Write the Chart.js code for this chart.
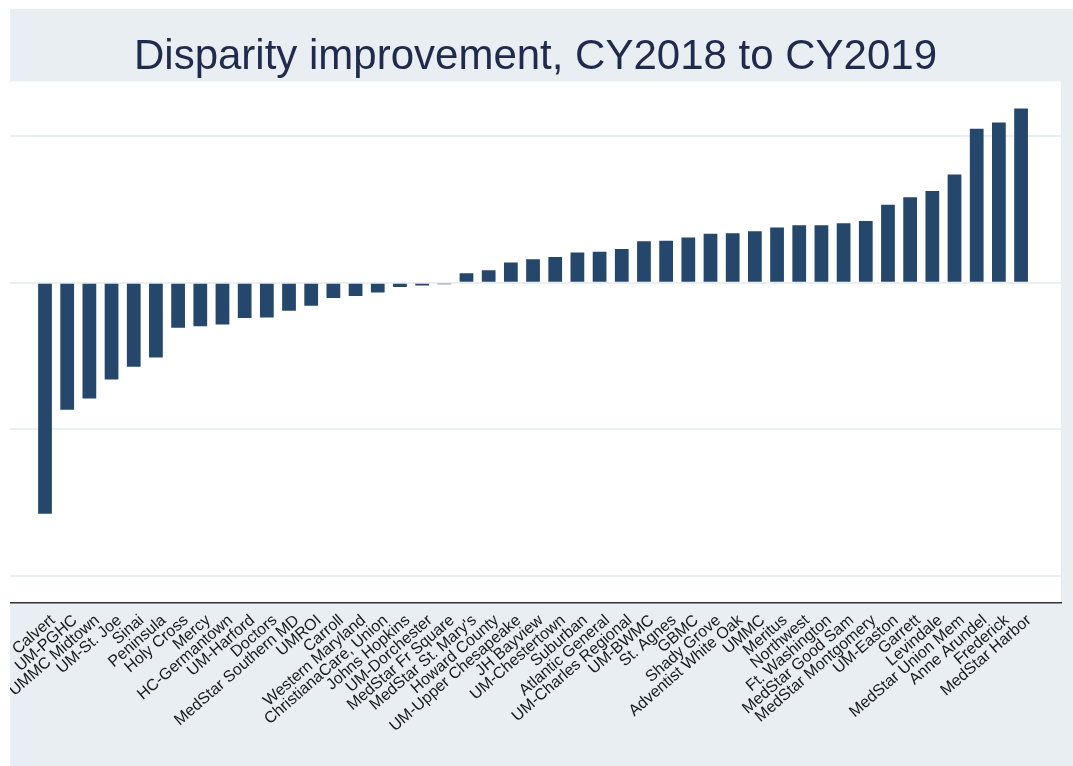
<!DOCTYPE html>
<html>
<head>
<meta charset="utf-8">
<script src="https://cdn.jsdelivr.net/npm/chart.js@4"></script>
<style>
  html, body { margin: 0; padding: 0; background: #fff; }
  #wrap { position: absolute; left: 10px; top: 9px; width: 1063px; height: 757px; background: #e9eef2; }
</style>
</head>
<body>
<div id="wrap"><canvas id="chart" width="1063" height="757"></canvas></div>
<script>
const hospitals = [
  "Calvert", "UM-PGHC", "UMMC Midtown", "UM-St. Joe", "Sinai", "Peninsula", "Holy Cross", "Mercy",
  "HC-Germantown", "UM-Harford", "Doctors", "MedStar Southern MD", "UMROI", "Carroll",
  "Western Maryland", "ChristianaCare, Union", "Johns Hopkins", "UM-Dorchester", "MedStar Fr Square",
  "MedStar St. Mary's", "Howard County", "UM-Upper Chesapeake", "JH Bayview", "UM-Chestertown",
  "Suburban", "Atlantic General", "UM-Charles Regional", "UM-BWMC", "St. Agnes", "GBMC",
  "Shady Grove", "Adventist White Oak", "UMMC", "Meritus", "Northwest", "Ft. Washington",
  "MedStar Good Sam", "MedStar Montgomery", "UM-Easton", "Garrett", "Levindale",
  "MedStar Union Mem", "Anne Arundel", "Frederick", "MedStar Harbor"
];

const improvement = [
  -1.576, -0.866, -0.790, -0.661, -0.574, -0.510, -0.308, -0.298,
  -0.285, -0.241, -0.237, -0.191, -0.157, -0.105,
  -0.091, -0.068, -0.030, -0.020, -0.011,
  0.064, 0.084, 0.137, 0.159, 0.175,
  0.205, 0.210, 0.230, 0.282, 0.285, 0.308,
  0.333, 0.337, 0.351, 0.376, 0.392, 0.392,
  0.405, 0.421, 0.531, 0.583, 0.624,
  0.738, 1.050, 1.091, 1.187
];

const gridValues = [-2, -1, 0, 1];

const plotBackground = {
  id: "plotBackground",
  beforeDraw(chart) {
    const { ctx, chartArea: a } = chart;
    ctx.save();
    ctx.fillStyle = "#ffffff";
    ctx.fillRect(a.left, a.top, a.right - a.left, a.bottom - a.top);
    ctx.restore();
  }
};

new Chart(document.getElementById("chart"), {
  type: "bar",
  data: {
    datasets: [{
      data: hospitals.map((h, i) => ({ x: i, y: improvement[i] })),
      backgroundColor: "#25476b",
      borderWidth: 0,
      categoryPercentage: 1,
      barPercentage: 0.62
    }]
  },
  options: {
    responsive: false,
    animation: false,
    layout: { padding: { left: 0, right: 12, top: 0, bottom: 0 } },
    plugins: {
      legend: { display: false },
      tooltip: { enabled: false },
      title: {
        display: true,
        text: "Disparity improvement, CY2018 to CY2019",
        color: "#1f2a4d",
        font: { family: "'Liberation Sans', Arial, sans-serif", size: 42, weight: "normal" },
        padding: { top: 23, bottom: -1 }
      }
    },
    scales: {
      x: {
        type: "linear",
        offset: false,
        min: -1.578,
        max: 45.8,
        afterBuildTicks: s => { s.ticks = hospitals.map((h, i) => ({ value: i })); },
        afterFit: s => { s.height = 163; s.paddingLeft = 0; s.paddingRight = 0; },
        grid: { display: false, drawTicks: false },
        border: { display: true, color: "#333333", width: 1.5 },
        ticks: {
          autoSkip: false,
          minRotation: 41,
          maxRotation: 41,
          padding: 8,
          labelOffset: 8,
          color: "#1a1a1a",
          font: { family: "'Liberation Sans', Arial, sans-serif", size: 16 },
          callback: v => hospitals[v]
        }
      },
      y: {
        min: -2.184,
        max: 1.372,
        afterBuildTicks: s => { s.ticks = gridValues.map(v => ({ value: v })); },
        afterFit: s => { s.width = 0; },
        grid: { color: "#eaeff2", lineWidth: 2, drawTicks: false },
        border: { display: false },
        ticks: { display: false }
      }
    }
  },
  plugins: [plotBackground]
});
</script>
</body>
</html>
